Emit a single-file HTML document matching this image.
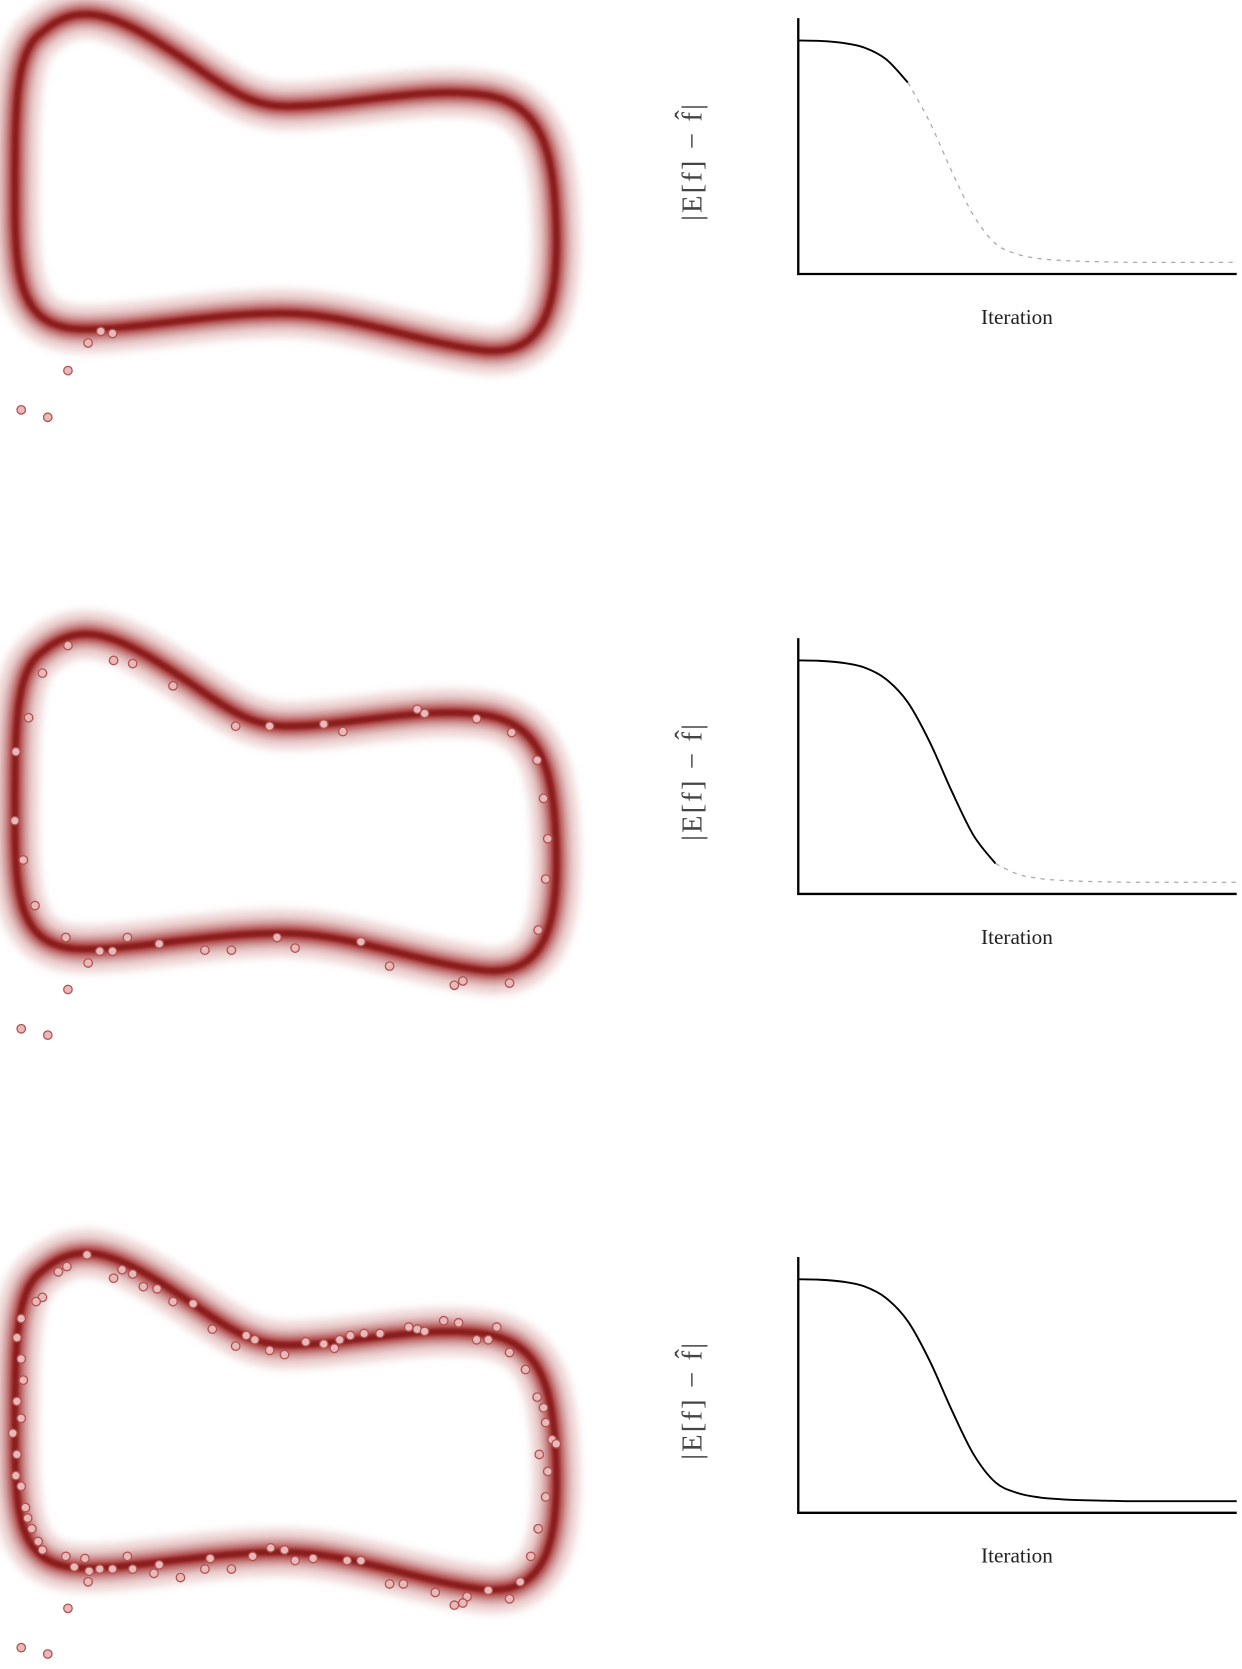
<!DOCTYPE html>
<html><head><meta charset="utf-8"><style>
html,body{margin:0;padding:0;background:#fff;}
svg{display:block;}
text{font-family:"Liberation Serif",serif;}
</style></head>
<body>
<svg id="fig" width="1242" height="1669" viewBox="0 0 1170 1572" xmlns="http://www.w3.org/2000/svg">
<defs>
<filter id="blur" x="-10%" y="-10%" width="120%" height="120%"><feGaussianBlur stdDeviation="4"/></filter>
<filter id="blur2" x="-10%" y="-10%" width="120%" height="120%"><feGaussianBlur stdDeviation="2.5"/></filter>
<filter id="blur3" x="-10%" y="-10%" width="120%" height="120%"><feGaussianBlur stdDeviation="1.2"/></filter>
</defs>
</svg>
<script>
// Panel vertical offsets (display units)
const panelOffsets = [0, 584, 1167];
// Outlier tail points shared by all panels
const tailX = [83, 95, 106, 64, 20, 45];
const tailY = [323, 312, 314, 349, 386, 393];
// Panel 2 samples
const p2X = [64,40,107,125,163,222,254,305,323,393,400,449,482,506,512,15,27,14,22,33,516,514,507,480,428,436,367,340,278,261,218,193,150,120,106,94,62,83,64,20,45];
const p2Y = [608,634,622,625,646,684,684,682,689,668,672,677,690,716,752,708,676,773,810,853,790,828,876,926,928,924,910,887,893,883,895,895,889,883,896,896,883,907,932,969,975];
// Panel 3 samples
const p3X = [82,63,55,40,34,20,107,115,125,135,148,163,182,200,222,232,240,254,268,288,305,315,320,330,343,358,385,393,400,418,432,449,460,468,480,495,506,512,514,520,524,508,516,514,507,500,490,480,460,440,436,428,410,380,367,340,327,295,278,268,255,238,218,198,193,170,150,145,125,120,106,94,80,62,40,30,24,20,16,12,20,16,22,20,16,26,36,15,84,70,83,64,20,45];
const p3Y = [1182,1193,1198,1222,1226,1242,1204,1196,1200,1212,1214,1226,1228,1252,1268,1258,1262,1272,1276,1264,1266,1270,1262,1258,1256,1256,1250,1252,1254,1244,1246,1262,1262,1250,1274,1290,1316,1326,1340,1356,1360,1370,1386,1410,1440,1466,1490,1506,1498,1504,1510,1512,1500,1492,1492,1470,1470,1468,1470,1460,1458,1466,1478,1468,1478,1486,1474,1482,1478,1466,1478,1478,1468,1466,1460,1440,1420,1400,1370,1350,1336,1320,1300,1280,1260,1430,1452,1390,1480,1476,1490,1515,1552,1558];
// Convergence curve: iteration fraction and normalized error
const iterFrac = [0,0.05,0.1,0.15,0.2,0.25,0.3,0.35,0.4,0.45,0.5,0.55,0.6,0.65,0.7,0.75,0.8,0.85,0.9,0.95,1];
const errVals = [1.0,0.998,0.99,0.97,0.92,0.82,0.65,0.44,0.25,0.13,0.085,0.066,0.058,0.054,0.052,0.05,0.05,0.05,0.05,0.05,0.05];
const solidUntil = [5, 9, 20];

const NS = 'http://www.w3.org/2000/svg';
const svg = document.getElementById('fig');
function mk(tag, attrs, parent){ const e=document.createElementNS(NS,tag); for(const k in attrs) e.setAttribute(k,attrs[k]); (parent||svg).appendChild(e); return e; }

const blobPath = "M 40,30 C 80,-5 120,20 180,60 C 220,88 240,100 270,100 C 330,100 400,80 460,90 C 512,100 522,145 524,215 C 526,290 512,336 455,330 C 390,322 330,295 265,295 C 200,295 130,310 80,310 C 22,310 14,270 14,190 C 14,100 14,48 40,30 Z";

const ax0 = 752, ax1 = 1165, axTop = 17, axBot = 258, yTop = 38;
function sx(f){ return ax0 + f*(ax1-ax0); }
function sy(v, off){ return off + axBot - v*(axBot - yTop); }

function pathFrom(pts){
  let d = 'M'+pts[0][0]+','+pts[0][1];
  for(let i=0;i<pts.length-1;i++){
    const p0=pts[Math.max(0,i-1)], p1=pts[i], p2=pts[i+1], p3=pts[Math.min(pts.length-1,i+2)];
    const c1=[p1[0]+(p2[0]-p0[0])/6, p1[1]+(p2[1]-p0[1])/6];
    const c2=[p2[0]-(p3[0]-p1[0])/6, p2[1]-(p3[1]-p1[1])/6];
    d+=' C'+c1[0]+','+c1[1]+' '+c2[0]+','+c2[1]+' '+p2[0]+','+p2[1];
  }
  return d;
}

panelOffsets.forEach((off, pi) => {
  const g = mk('g', {transform:'translate(0,'+off+')'});
  
  
  const halo = mk('path', {d:blobPath, fill:'none', stroke:'#ecd0d0', 'stroke-width':44, filter:'url(#blur)'}, g);
  
  
  const mid = mk('path', {d:blobPath, fill:'none', stroke:'#d4a0a0', 'stroke-width':26, filter:'url(#blur2)'}, g);
  
  
  const inner = mk('path', {d:blobPath, fill:'none', stroke:'#b04848', 'stroke-width':14, filter:'url(#blur2)'}, g);
  
  
  const core = mk('path', {d:blobPath, fill:'none', stroke:'#8a1a1a', 'stroke-width':6, filter:'url(#blur3)'}, g);
  
  

  let xs, ys;
  if(pi===0){ xs=tailX; ys=tailY; }
  else if(pi===1){ xs=p2X; ys=p2Y; }
  else { xs=p3X; ys=p3Y; }
  xs.forEach((x,i)=>{
    const c = mk('circle', {cx:x, cy:ys[i], r:4, fill:'#e9b9b9', stroke:'#b05252', 'stroke-width':1.2});
    
    
  });

  const cg = mk('g', {});
  
  
  const ya = mk('line', {x1:ax0, y1:off+axTop, x2:ax0, y2:off+axBot+1, stroke:'#000', 'stroke-width':2.2}, cg);
  
  
  const xa = mk('line', {x1:ax0-1, y1:off+axBot, x2:ax1, y2:off+axBot, stroke:'#000', 'stroke-width':2.2}, cg);
  
  

  const pts = iterFrac.map((f,i)=>[sx(f), sy(errVals[i], off)]);
  const cut = solidUntil[pi];
  const solid = mk('path', {d:pathFrom(pts.slice(0,cut+1)), fill:'none', stroke:'#000', 'stroke-width':1.8}, cg);
  
  
  if(cut < pts.length-1){
    const dash = mk('path', {d:pathFrom(pts.slice(cut)), fill:'none', stroke:'#aaa', 'stroke-width':1.2, 'stroke-dasharray':'4,5'}, cg);
    
    
  }
  const xt = mk('text', {x:958, y:off+305, 'font-size':20, 'text-anchor':'middle', fill:'#222'}, cg);
  xt.textContent = 'Iteration';
  
  
  const yt = mk('text', {x:0, y:0, 'font-size':27, 'text-anchor':'middle', fill:'#444', 'letter-spacing':'2', transform:'translate(661,'+(off+152)+') rotate(-90)'}, cg);
  yt.textContent = '|E[f] \u2212 f\u0302|';
  
  
});
</script>
</body></html>
